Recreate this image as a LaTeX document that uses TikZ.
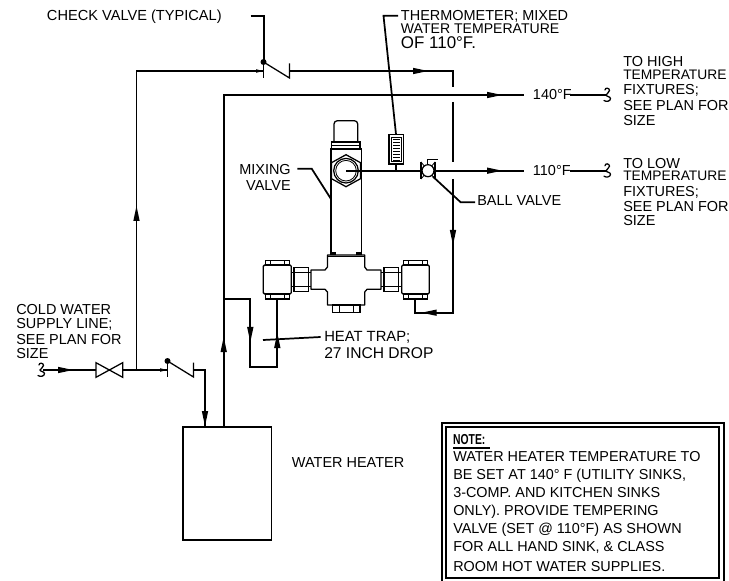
\documentclass[tikz,border=0pt]{standalone}
\usepackage{fontspec}
\setmainfont{Liberation Sans}
\usetikzlibrary{calc}
\tikzset{
  x=0.75pt,y=-0.75pt,
  pipe/.style={line width=1.3pt,line cap=butt,line join=miter},
  thinl/.style={line width=0.95pt},
  hair/.style={line width=0.6pt},
  lab/.style={inner sep=0pt,anchor=west,font=\fontsize{10.85}{11}\selectfont},
  labr/.style={lab,anchor=east},
  notetxt/.style={inner sep=0pt,anchor=west,font=\fontsize{10.8}{11}\selectfont},
  arrowhead/.pic={\fill[black] (0,0) -- (-15,-3.2) -- (-15,3.2) -- cycle;},
  smallhead/.pic={\fill[black] (0,0) -- (-7,-1.8) -- (-7,1.8) -- cycle;},
  breakline/.pic={\draw[thinl,line cap=round] (-3,-5) .. controls (-3,-7.5) and (1.5,-7.5) .. (1.5,-4.5) .. controls (1.5,-2) and (-2,-1.5) .. (-2,0) .. controls (-2,1.5) and (2.5,1.5) .. (2.5,3.5) .. controls (2.5,6.5) and (-2,7) .. (-4,5.5);},
}
\begin{document}
\begin{tikzpicture}
\useasboundingbox (0,0) rectangle (729,581);
% junctions
\coordinate (coldstart) at (43,370);
\coordinate (gvL) at (96,370);
\coordinate (gvR) at (122.7,370);
\coordinate (tee) at (136.5,370);
\coordinate (cv1a) at (167.5,370);
\coordinate (cv1b) at (193.5,370);
\coordinate (cv1c) at (205,370);
\coordinate (cv1d) at (205,427);
\coordinate (upL) at (136.5,71);
\coordinate (cv2a) at (263.5,71);
\coordinate (cv2b) at (290,71);
\coordinate (corner) at (453,71);
\coordinate (hot) at (223.7,427);
\coordinate (hotTop) at (223.7,95);
\coordinate (hotEnd) at (524,95);
\coordinate (center) at (346,170.7);
\coordinate (bvL) at (421,170.7);
\coordinate (bvR) at (435,170.7);
\coordinate (tempEnd) at (524,170.7);
% pipes
\draw[pipe] (coldstart) -- (gvL);
\draw[thinl] (gvL) -- ++(0,-7.3) -- ++(26.7,14.6) -- ++(0,-14.6) -- ++(-26.7,14.6) -- cycle;
\draw[pipe] (gvR) -- (cv1a);
\draw[pipe] (tee) -- (upL) -- (cv2a);
\draw[pipe] (cv1b) -- (cv1c) -- (cv1d);
\draw[pipe] (cv2b) -- (corner) -- (453,87.5);
\draw[pipe] (453,102) -- (453,162);
\draw[pipe] (453,179) -- (453,312.7) -- (415,312.7) -- (415,299);
\draw[pipe] (hot) -- (hotTop) -- (hotEnd);
\draw[pipe] (223.7,299.3) -- (250.3,299.3) -- (250.3,367.3) -- (277.3,367.3) -- (277.3,299);
\draw[pipe] (center) -- (bvL);
\draw[pipe] (bvR) -- (tempEnd);
\draw[pipe] (570,95) -- (606,95);
\draw[pipe] (570,170.7) -- (606,170.7);
% arrowheads
\pic at (73,370) {arrowhead};
\pic at (167,370) {smallhead};
\pic at (263,71) {smallhead};
\pic[rotate=90] at (136.5,206) {arrowhead};
\pic[rotate=-90] at (205,426) {arrowhead};
\pic[rotate=90] at (223.7,337) {arrowhead};
\pic at (428,71) {arrowhead};
\pic at (502,95) {arrowhead};
\pic at (502,170.7) {arrowhead};
\pic[rotate=-90] at (453,245) {arrowhead};
\pic[rotate=180] at (421.7,312.7) {arrowhead};
\pic[rotate=-90] at (250.3,342) {arrowhead};
\pic[rotate=90] at (277.3,333) {arrowhead};
% break lines
\pic at (42,370) {breakline};
\pic at (608,95) {breakline};
\pic at (608,170.7) {breakline};
% check valves
\foreach \bx/\by in {167.5/370,263.5/71}{
  \draw[thinl] (\bx,\by-12) -- (\bx,\by+7);
  \fill (\bx,\by-9) circle (3);
  \draw[thinl] (\bx,\by-9) -- (\bx+26,\by+7) -- (\bx+26,\by-7.5);
}
% heater
\draw[pipe] (182.7,426.7) rectangle (271.5,540);
% mixing valve upper
\draw[thinl] (331,255) -- (331,149) -- (361.3,149) -- (361.3,255);
\draw[thinl] (331.7,142) rectangle (360,149);
\draw[hair] (331.7,145) -- (360,145);
\draw[thinl,rounded corners=2.5pt] (334,142) -- (334,120.7) -- (357.7,120.7) -- (357.7,142);
\draw[thinl] (346,154.7) -- (360.5,162.7) -- (360.5,178.7) -- (346,186.7) -- (331.5,178.7) -- (331.5,162.7) -- cycle;
\draw[thinl] (center) circle (12.3);
\draw[hair] (center) circle (10.3);
% thermometer
\draw[thinl] (389,134.3) rectangle (403.3,164);
\draw[hair] (391.5,137) rectangle (401,161.5);
\foreach \ty in {139,142,...,160}{\draw[hair] (393,\ty) -- (399.5,\ty);}
\draw[pipe] (396,164) -- (396,170.7);
% ball valve
\draw[thinl] (421,161.7) -- (421,179);
\draw[thinl] (435,161.7) -- (435,179);
\draw[hair] (421,162) -- (428,170.7) -- (421,179);
\draw[hair] (435,162) -- (428,170.7) -- (435,179);
\draw[thinl,fill=white] (428,170.7) circle (6);
\draw[thinl] (427.3,165) -- (427.3,159.3) -- (438,159.3);
% mixing valve body
\draw[thinl,line join=round] (311,270) -- (325,270) -- (327.5,267) -- (327.5,255) -- (364.7,255) -- (364.7,267) -- (367,270) -- (381,270) -- (381,289.3) -- (367,289.3) -- (364.7,292) -- (364.7,305) -- (327.5,305) -- (327.5,292) -- (325,289.3) -- (311,289.3) -- cycle;
\draw[pipe] (327.5,256.5) -- (364.7,256.5);
\fill (331,252.5) rectangle (336,255);
\fill (356,252.5) rectangle (361.3,255);
\draw[thinl] (332.3,305) rectangle (360,312.3);
\draw[hair] (339.3,305) -- (339.3,312.3) (353.3,305) -- (353.3,312.3);
% unions
\foreach \bl/\br/\nl/\nr/\sl/\sr in {263.3/291.3/294/308.3/291.3/311,401.7/429.3/384/398.3/381/401.7}{
  \draw[thinl,rounded corners=1pt] (\bl,265) rectangle (\br,294);
  \draw[thinl] (\bl+2,260.7) rectangle (\br-2,265);
  \draw[thinl] (\bl+2,294) rectangle (\br-2,299);
  \draw[hair] (\bl+7,260.7) -- (\bl+7,265) (\br-7,260.7) -- (\br-7,265);
  \draw[hair] (\bl+7,294) -- (\bl+7,299) (\br-7,294) -- (\br-7,299);
  \draw[thinl] (\nl,267.7) rectangle (\nr,291.7);
  \draw[hair] (\nl,272.7) -- (\nr,272.7) (\nl,286.7) -- (\nr,286.7);
  \draw[hair] (\sl,272.7) -- (\sr,272.7) (\sl,286.7) -- (\sr,286.7);
}
% labels
\node[lab,font=\fontsize{10.95}{11}\selectfont] (checklbl) at (46.7,17) {CHECK VALVE (TYPICAL)};
\node[lab,font=\fontsize{10.85}{11}\selectfont] (thermo1) at (400.7,16) {THERMOMETER; MIXED};
\node[lab,font=\fontsize{10.55}{11}\selectfont] (thermo2) at (400.7,28.3) {WATER TEMPERATURE};
\node[lab,font=\fontsize{12.7}{13}\selectfont] (thermo3) at (400.7,42.7) {OF 110°F.};
\node[labr] (mix1) at (291,170) {MIXING};
\node[labr] (mix2) at (291,186) {VALVE};
\node[lab] (ball) at (477,201) {BALL VALVE};
\node[lab] (t140) at (532.7,95) {140°F};
\node[lab] (t110) at (532.7,170.7) {110°F};
\node[lab] (h1) at (623,61.7) {TO HIGH};
\node[lab,font=\fontsize{10.35}{11}\selectfont] (h2) at (623,75) {TEMPERATURE};
\node[lab] (h3) at (623,90.7) {FIXTURES;};
\node[lab] (h4) at (623,105.7) {SEE PLAN FOR};
\node[lab] (h5) at (623,120.3) {SIZE};
\node[lab] (l1) at (623,163.3) {TO LOW};
\node[lab,font=\fontsize{10.35}{11}\selectfont] (l2) at (623,176) {TEMPERATURE};
\node[lab] (l3) at (623,192) {FIXTURES;};
\node[lab] (l4) at (623,207) {SEE PLAN FOR};
\node[lab] (l5) at (623,221) {SIZE};
\node[lab] (c1) at (16,309.7) {COLD WATER};
\node[lab] (c2) at (16,324.3) {SUPPLY LINE;};
\node[lab] (c3) at (16,339.3) {SEE PLAN FOR};
\node[lab] (c4) at (16,354) {SIZE};
\node[lab,font=\fontsize{11.1}{11}\selectfont] (trap1) at (324,337) {HEAT TRAP;};
\node[lab,font=\fontsize{11.7}{11}\selectfont] (trap2) at (324,353) {27 INCH DROP};
\node[lab] (wh) at (291.7,463) {WATER HEATER};
% leaders
\draw[pipe] (250.7,15.7) -- (264,15.7) -- (264,62);
\draw[pipe] (398,15.7) -- (383.5,15.7) -- (396,134.3);
\draw[pipe] (297.3,168.7) -- (311.7,168.7) -- (331,199);
\draw[pipe] (433,176.7) -- (460.7,202.3) -- (475,202.3);
\draw[pipe] (320.7,337) -- (263,340);
% note
\draw[pipe] (442,423.3) rectangle (724.3,585);
\draw[pipe] (446,427.3) rectangle (719.3,578);
\node[notetxt,font=\fontsize{10.8}{11}\selectfont\bfseries,xscale=0.72] (note0) at (453,440) {NOTE:};
\draw[pipe] (453,448) -- (490,448);
\node[notetxt] (n1) at (453,456.7) {WATER HEATER TEMPERATURE TO};
\node[notetxt] (n2) at (453,475.7) {BE SET AT 140° F (UTILITY SINKS,};
\node[notetxt] (n3) at (453,493) {3-COMP. AND KITCHEN SINKS};
\node[notetxt] (n4) at (453,511.7) {ONLY). PROVIDE TEMPERING};
\node[notetxt] (n5) at (453,530) {VALVE (SET @ 110°F) AS SHOWN};
\node[notetxt] (n6) at (453,547.7) {FOR ALL HAND SINK, \& CLASS};
\node[notetxt] (n7) at (453,566.7) {ROOM HOT WATER SUPPLIES.};
\end{tikzpicture}
\end{document}
